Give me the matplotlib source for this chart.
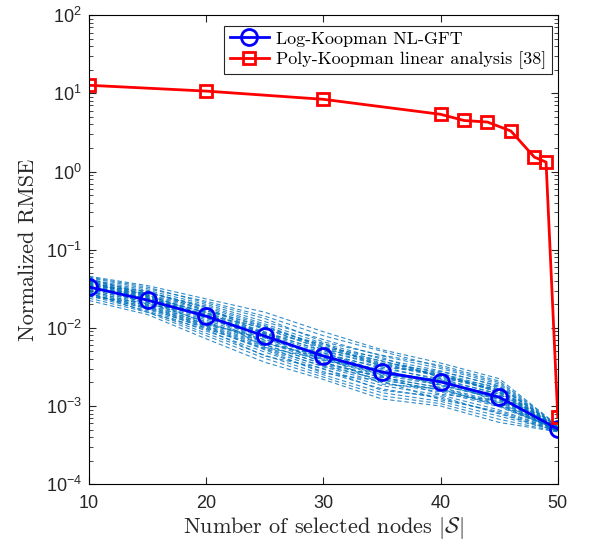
import matplotlib
matplotlib.use("Agg")
import matplotlib.pyplot as plt
import numpy as np
from matplotlib.font_manager import FontProperties
from matplotlib.ticker import LogLocator, NullFormatter

plt.rcParams['font.family'] = ['Liberation Sans', 'DejaVu Sans']

# data
nodes_nlgft = [10, 15, 20, 25, 30, 35, 40, 45, 50]
rmse_nlgft = [0.0333, 0.0226, 0.0141, 0.00785, 0.00436, 0.00272, 0.00204, 0.0013, 0.000508]

nodes_poly = [10, 20, 30, 40, 42, 44, 46, 48, 49, 50]
rmse_poly = [12.7, 10.7, 8.4, 5.4, 4.5, 4.3, 3.3, 1.53, 1.32, 0.00072]

# individual trial curves (log10 of normalized RMSE), same nodes as nlgft
trial_log10 = [
    [-1.34, -1.46, -1.63, -1.80, -2.05, -2.28, -2.45, -2.65, -3.25],
    [-1.36, -1.50, -1.66, -1.85, -2.10, -2.30, -2.50, -2.70, -3.26],
    [-1.38, -1.52, -1.70, -1.92, -2.15, -2.36, -2.52, -2.72, -3.27],
    [-1.40, -1.55, -1.72, -1.95, -2.20, -2.40, -2.55, -2.75, -3.27],
    [-1.41, -1.57, -1.76, -2.00, -2.22, -2.43, -2.58, -2.78, -3.28],
    [-1.42, -1.58, -1.78, -2.02, -2.26, -2.46, -2.60, -2.80, -3.28],
    [-1.43, -1.60, -1.80, -2.05, -2.30, -2.48, -2.62, -2.82, -3.29],
    [-1.44, -1.62, -1.83, -2.08, -2.32, -2.52, -2.65, -2.85, -3.29],
    [-1.45, -1.63, -1.85, -2.10, -2.35, -2.55, -2.68, -2.88, -3.29],
    [-1.46, -1.65, -1.88, -2.13, -2.38, -2.58, -2.70, -2.90, -3.30],
    [-1.47, -1.66, -1.90, -2.16, -2.41, -2.61, -2.73, -2.92, -3.30],
    [-1.48, -1.68, -1.92, -2.18, -2.44, -2.64, -2.76, -2.95, -3.30],
    [-1.50, -1.70, -1.95, -2.21, -2.47, -2.67, -2.79, -2.98, -3.31],
    [-1.52, -1.72, -1.98, -2.24, -2.50, -2.70, -2.82, -3.01, -3.31],
    [-1.54, -1.74, -2.01, -2.27, -2.53, -2.74, -2.86, -3.05, -3.31],
    [-1.56, -1.76, -2.04, -2.31, -2.56, -2.78, -2.90, -3.09, -3.32],
    [-1.59, -1.78, -2.07, -2.35, -2.60, -2.83, -2.94, -3.13, -3.32],
    [-1.62, -1.80, -2.10, -2.39, -2.63, -2.87, -2.97, -3.17, -3.33],
    [-1.65, -1.83, -2.14, -2.44, -2.66, -2.91, -3.00, -3.21, -3.33],
    [-1.37, -1.58, -1.84, -2.00, -2.28, -2.42, -2.62, -2.76, -3.26],
    [-1.52, -1.55, -1.74, -2.08, -2.20, -2.50, -2.58, -2.83, -3.28],
    [-1.44, -1.70, -1.82, -2.25, -2.40, -2.60, -2.66, -2.96, -3.30],
    [-1.60, -1.68, -1.96, -2.12, -2.45, -2.62, -2.85, -2.93, -3.32],
    [-1.35, -1.48, -1.68, -1.88, -2.18, -2.35, -2.48, -2.68, -3.25],
    [-1.49, -1.62, -1.80, -2.20, -2.36, -2.72, -2.78, -3.00, -3.30],
    [-1.58, -1.75, -2.00, -2.28, -2.58, -2.68, -2.92, -3.07, -3.31],
    [-1.40, -1.64, -1.94, -2.15, -2.32, -2.56, -2.70, -2.86, -3.29],
    [-1.46, -1.53, -1.78, -1.98, -2.25, -2.38, -2.64, -2.79, -3.27],
    [-1.55, -1.80, -2.02, -2.36, -2.52, -2.80, -2.88, -3.10, -3.32],
    [-1.43, -1.60, -1.86, -2.06, -2.42, -2.53, -2.74, -2.90, -3.30],
    [-1.39, -1.54, -1.74, -1.97, -2.24, -2.45, -2.56, -2.74, -3.27],
    [-1.47, -1.61, -1.87, -2.11, -2.34, -2.50, -2.67, -2.84, -3.29],
    [-1.51, -1.67, -1.93, -2.19, -2.39, -2.59, -2.72, -2.91, -3.30],
    [-1.57, -1.73, -1.99, -2.26, -2.49, -2.66, -2.80, -2.99, -3.31],
    [-1.41, -1.59, -1.81, -2.07, -2.29, -2.47, -2.61, -2.81, -3.28],
    [-1.53, -1.71, -1.97, -2.22, -2.46, -2.63, -2.77, -2.97, -3.31],
]

fig = plt.figure(figsize=(5.89, 5.44), dpi=100)
ax = fig.add_axes([0.151, 0.110, 0.796, 0.862])

for tr in trial_log10:
    ax.plot(nodes_nlgft, 10 ** np.array(tr), color='#0072BD', lw=0.8,
            dashes=(4, 2.5), alpha=0.8)

ax.plot(nodes_nlgft, rmse_nlgft, '-o', color='blue', lw=2, ms=11.5,
        mfc='none', mew=2, label='Log-Koopman NL-GFT')
ax.plot(nodes_poly, rmse_poly, '-s', color='red', lw=2, ms=9,
        mfc='none', mew=2, label='Poly-Koopman linear analysis [38]')

ax.set_yscale('log')
ax.set_xlim(10, 50)
ax.set_ylim(1e-4, 1e2)
ax.set_xticks([10, 20, 30, 40, 50])
ax.yaxis.set_major_locator(LogLocator(base=10, numticks=10))
ax.yaxis.set_minor_locator(LogLocator(base=10, subs=np.arange(2, 10), numticks=20))
ax.yaxis.set_minor_formatter(NullFormatter())
ax.tick_params(which='both', direction='in', top=True, right=True, labelsize=13, colors='#262626')
ax.tick_params(which='major', length=5)
ax.tick_params(which='minor', length=3)
ax.tick_params(axis='x', pad=8)
ax.tick_params(axis='y', pad=5)
for sp in ax.spines.values():
    sp.set_linewidth(0.8)

ax.set_xlabel(r'Number of selected nodes $|\mathcal{S}|$', fontfamily='cmr10',
              math_fontfamily='cm', fontsize=16, color='#262626', labelpad=2)
ax.set_ylabel('Normalized RMSE', fontfamily='cmr10', fontsize=16, color='#262626',
              labelpad=6)

leg = ax.legend(loc='upper right', bbox_to_anchor=(0.988, 0.978), borderaxespad=0,
                prop=FontProperties(family='cmr10', size=13), fancybox=False,
                framealpha=1, edgecolor='#262626', handlelength=2.2,
                borderpad=0.3, labelspacing=0.25, handletextpad=0.4)
leg.get_frame().set_linewidth(0.8)

fig.savefig('out.png', dpi=100)
